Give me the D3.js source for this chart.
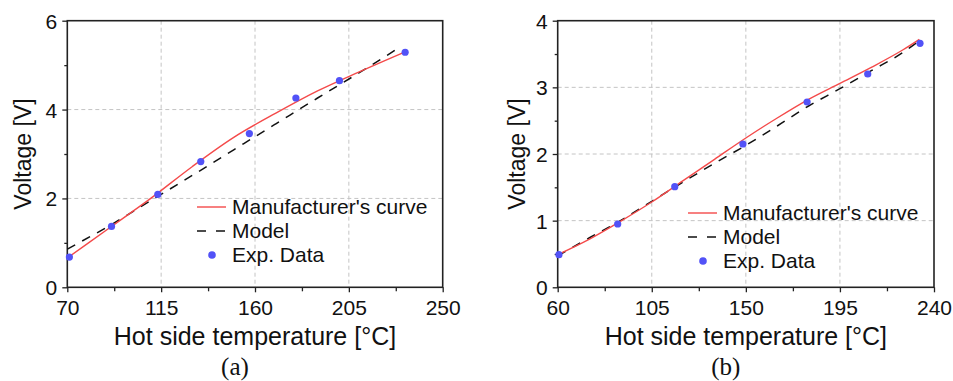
<!DOCTYPE html>
<html>
<head>
<meta charset="utf-8">
<script src="https://cdn.jsdelivr.net/npm/d3@7"></script>
<style>
  body { margin: 0; background: #fff; }
  svg { display: block; font-family: "Liberation Sans", Arial, sans-serif; }
  .grid line { stroke: #c4c4c4; stroke-dasharray: 4,3; stroke-width: 1; }
  .axis path { display: none; }
  .axis line { stroke: #222; stroke-width: 1.3; }
  .axis text { font-size: 21px; fill: #111; font-family: "Liberation Sans", Arial, sans-serif; }
</style>
</head>
<body>
<div id="chart"></div>
<script>
// ---- panel (a) ----
var mfrTempA = [70, 90, 110, 130, 150, 170, 190, 210, 232];
var mfrVoltA = [0.66, 1.33, 2.0, 2.72, 3.38, 3.92, 4.42, 4.85, 5.30];
var modelTempA = [70, 90, 110, 130, 150, 170, 190, 210, 228];
var modelVoltA = [0.86, 1.38, 1.95, 2.52, 3.10, 3.68, 4.26, 4.83, 5.36];
var expTempA = [71, 91.2, 113.4, 134, 157.3, 179.6, 200.5, 232];
var expVoltA = [0.68, 1.37, 2.09, 2.83, 3.46, 4.26, 4.65, 5.29];
var xTicksA = [70, 115, 160, 205, 250];
var yTicksA = [0, 2, 4, 6];

// ---- panel (b) ----
var mfrTempB = [60, 75, 90, 105, 120, 135, 150, 165, 180, 195, 210, 225, 233];
var mfrVoltB = [0.49, 0.72, 0.99, 1.28, 1.60, 1.92, 2.24, 2.54, 2.82, 3.06, 3.30, 3.56, 3.72];
var modelTempB = [60, 75, 90, 105, 120, 135, 150, 165, 180, 195, 210, 225, 233];
var modelVoltB = [0.47, 0.74, 1.00, 1.29, 1.58, 1.86, 2.13, 2.42, 2.72, 2.98, 3.25, 3.52, 3.70];
var expTempB = [60.6, 88.7, 116, 148.6, 179.3, 208.3, 233.3];
var expVoltB = [0.49, 0.95, 1.51, 2.15, 2.78, 3.20, 3.66];
var xTicksB = [60, 105, 150, 195, 240];
var yTicksB = [0, 1, 2, 3, 4];

var legendLabels = ["Manufacturer's curve", "Model", "Exp. Data"];
var redColor = "#f44a4a", dotColor = "#5252f7";

var svg = d3.select("#chart").append("svg").attr("width", 953).attr("height", 381);

function zip(a, b) { return a.map(function (v, i) { return [v, b[i]]; }); }

function drawPanel(opt) {
  var w = opt.right - opt.left, h = opt.bottom - opt.top;
  var x = d3.scaleLinear().domain(opt.xDomain).range([0, w]);
  var y = d3.scaleLinear().domain(opt.yDomain).range([h, 0]);
  var g = svg.append("g").attr("transform", "translate(" + opt.left + "," + opt.top + ")");

  // grid
  var grid = g.append("g").attr("class", "grid");
  grid.selectAll(".gx").data(opt.xTicks.slice(1, -1)).enter().append("line")
    .attr("x1", function (d) { return x(d); }).attr("x2", function (d) { return x(d); })
    .attr("y1", 0).attr("y2", h);
  grid.selectAll(".gy").data(opt.yTicks.slice(1, -1)).enter().append("line")
    .attr("y1", function (d) { return y(d); }).attr("y2", function (d) { return y(d); })
    .attr("x1", 0).attr("x2", w);

  // minor ticks
  var xMinor = [], yMinor = [];
  for (var i = 0; i < opt.xTicks.length - 1; i++) xMinor.push((opt.xTicks[i] + opt.xTicks[i + 1]) / 2);
  for (var j = 0; j < opt.yTicks.length - 1; j++) yMinor.push((opt.yTicks[j] + opt.yTicks[j + 1]) / 2);

  g.append("g").attr("class", "axis").attr("transform", "translate(0," + h + ")")
    .call(d3.axisBottom(x).tickValues(xMinor).tickSize(4).tickFormat(""));
  g.append("g").attr("class", "axis")
    .call(d3.axisLeft(y).tickValues(yMinor).tickSize(3).tickFormat(""));

  var xa = g.append("g").attr("class", "axis").attr("transform", "translate(0," + h + ")")
    .call(d3.axisBottom(x).tickValues(opt.xTicks).tickSize(5).tickFormat(d3.format("d")));
  xa.selectAll("text").attr("y", 28).attr("dy", null);
  var ya = g.append("g").attr("class", "axis")
    .call(d3.axisLeft(y).tickValues(opt.yTicks).tickSize(5).tickFormat(d3.format("d")));
  ya.selectAll("text").attr("x", -10).attr("dy", "0.36em");

  // frame
  g.append("rect").attr("width", w).attr("height", h)
    .attr("fill", "none").attr("stroke", "#222").attr("stroke-width", 1.6);

  var line = d3.line().x(function (d) { return x(d[0]); }).y(function (d) { return y(d[1]); })
    .curve(d3.curveMonotoneX);

  g.append("path").datum(zip(opt.modelT, opt.modelV)).attr("d", line)
    .attr("fill", "none").attr("stroke", "#111").attr("stroke-width", 1.5)
    .attr("stroke-dasharray", "9,8");
  g.append("path").datum(zip(opt.mfrT, opt.mfrV)).attr("d", line)
    .attr("fill", "none").attr("stroke", redColor).attr("stroke-width", 1.4);
  g.selectAll(".dot").data(zip(opt.expT, opt.expV)).enter().append("circle")
    .attr("cx", function (d) { return x(d[0]); }).attr("cy", function (d) { return y(d[1]); })
    .attr("r", 3.6).attr("fill", dotColor);

  // axis titles
  g.append("text").attr("x", w / 2).attr("y", h + 58).attr("text-anchor", "middle")
    .attr("font-size", 25).attr("fill", "#111").text("Hot side temperature [°C]");
  g.append("text").attr("transform", "translate(" + opt.yTitleX + "," + (h / 2) + ") rotate(-90)")
    .attr("text-anchor", "middle").attr("font-size", 23).attr("fill", "#111").text("Voltage [V]");
  g.append("text").attr("x", w / 2 - 20).attr("y", 375 - opt.top).attr("text-anchor", "middle")
    .attr("font-family", "'Liberation Serif', 'Times New Roman', serif")
    .attr("font-size", 25).attr("fill", "#111").text(opt.caption);

  // legend
  var lg = svg.append("g").attr("transform", "translate(" + opt.legX + "," + opt.legY + ")");
  lg.append("line").attr("x1", 0).attr("x2", 29).attr("y1", 0).attr("y2", 0)
    .attr("stroke", redColor).attr("stroke-width", 1.4);
  lg.append("line").attr("x1", 0).attr("x2", 29).attr("y1", 24).attr("y2", 24)
    .attr("stroke", "#111").attr("stroke-width", 1.6).attr("stroke-dasharray", "9,10");
  lg.append("circle").attr("cx", 15).attr("cy", 48).attr("r", 3.8).attr("fill", dotColor);
  lg.selectAll(".lt").data(legendLabels).enter().append("text")
    .attr("x", 35).attr("y", function (d, i) { return i * 24 + 7; })
    .attr("font-size", 21).attr("fill", "#111").text(function (d) { return d; });
}

drawPanel({
  left: 67.3, right: 442.7, top: 20.7, bottom: 287.3,
  xDomain: [70, 250], yDomain: [0, 6], xTicks: xTicksA, yTicks: yTicksA,
  mfrT: mfrTempA, mfrV: mfrVoltA, modelT: modelTempA, modelV: modelVoltA,
  expT: expTempA, expV: expVoltA, caption: "(a)", legX: 197, legY: 207, yTitleX: -36
});
drawPanel({
  left: 557.7, right: 934, top: 20.7, bottom: 287.3,
  xDomain: [60, 240], yDomain: [0, 4], xTicks: xTicksB, yTicks: yTicksB,
  mfrT: mfrTempB, mfrV: mfrVoltB, modelT: modelTempB, modelV: modelVoltB,
  expT: expTempB, expV: expVoltB, caption: "(b)", legX: 688, legY: 213, yTitleX: -33
});
</script>
</body>
</html>
